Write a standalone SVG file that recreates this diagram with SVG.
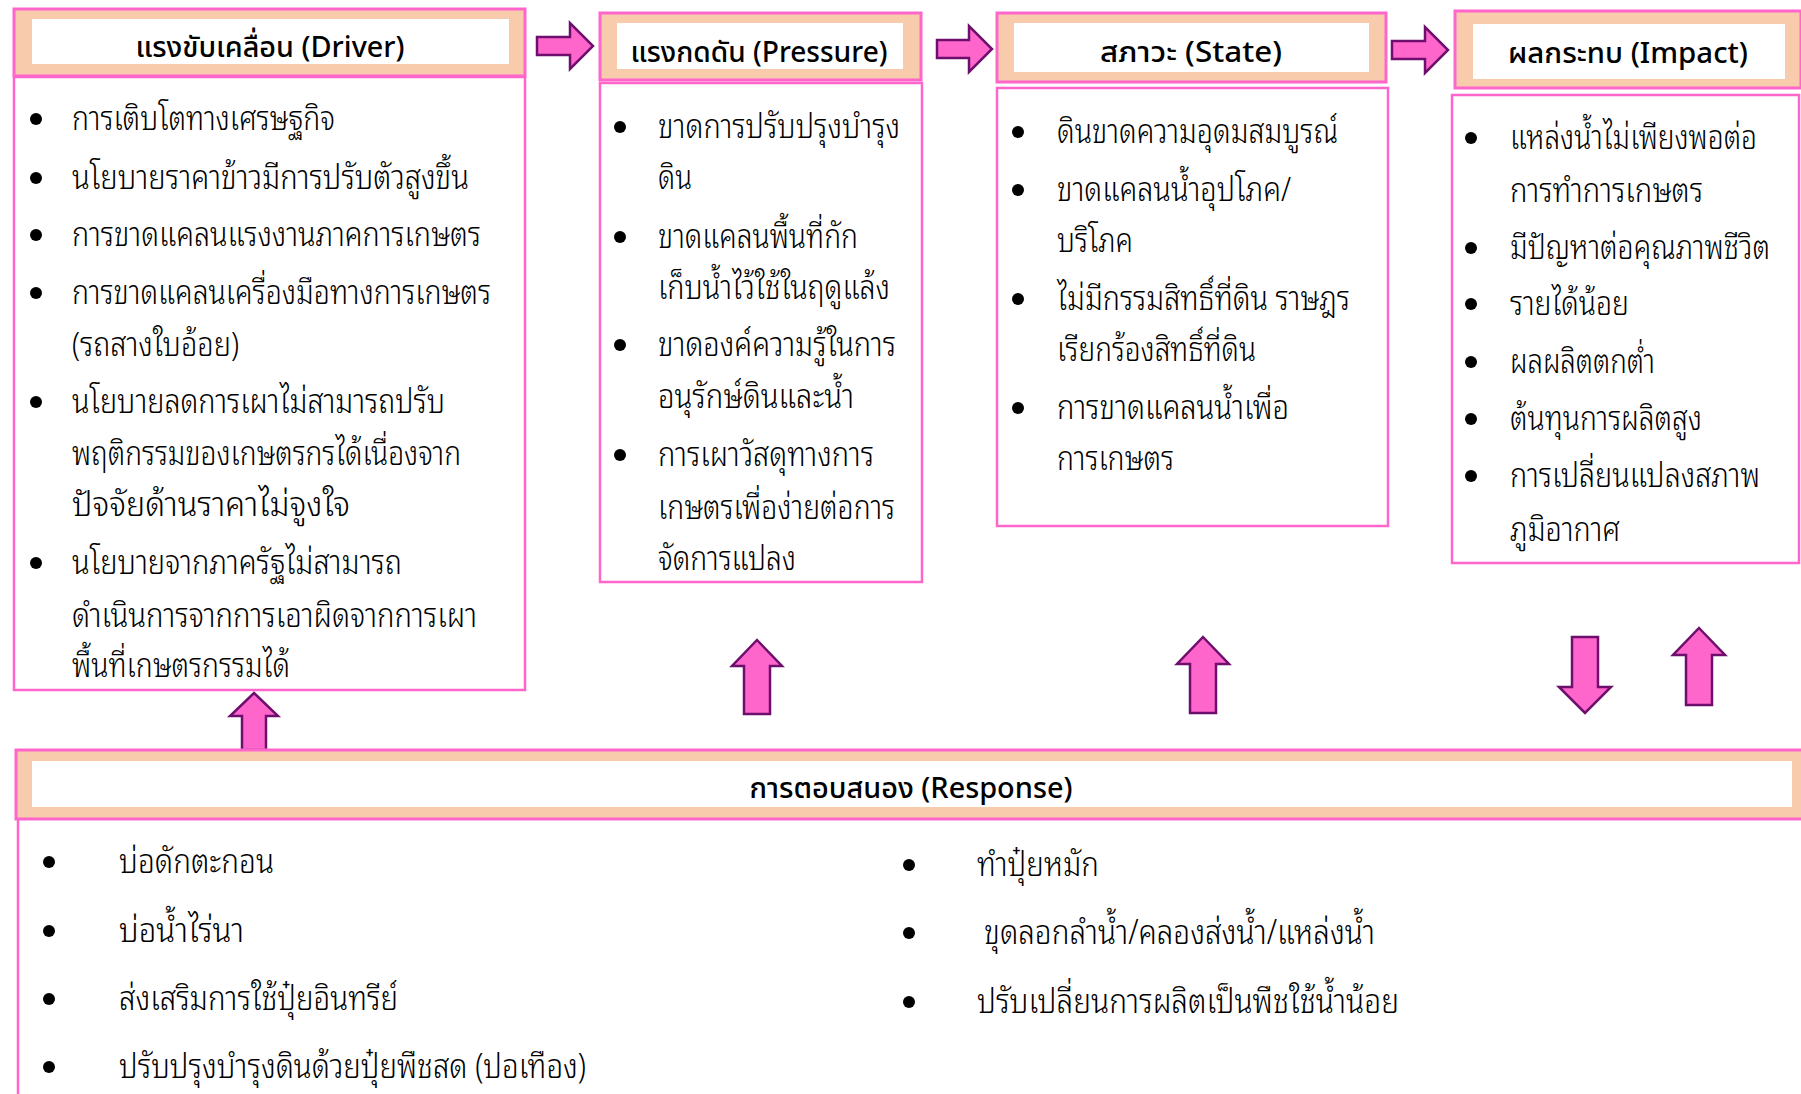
<svg xmlns="http://www.w3.org/2000/svg" width="1801" height="1094" viewBox="0 0 1801 1094">
<defs>
<style>
.hdr{fill:#F8CBAD;stroke:#FF66CC;stroke-width:3}
.inner{fill:#FFFFFF;stroke:none}
.body{fill:#FFFFFF;stroke:#FF66CC;stroke-width:2.5}
.arrow{fill:#FF66CC;stroke:#6E0F6E;stroke-width:2.5;stroke-linejoin:miter}
.title{font-family:"Noto Sans Thai","Noto Sans Thai UI","Leelawadee UI","Noto Sans",sans-serif;font-size:29px;font-weight:500;fill:#000;text-anchor:middle}
.t{font-family:"Noto Sans Thai Looped","Noto Serif Thai","Noto Sans Thai","TH Sarabun New","Noto Sans",sans-serif;font-size:33px;font-weight:300;fill:#000}
.r{font-size:34px}
.dot{fill:#000}
</style>
</defs>
<rect width="1801" height="1094" fill="#FFFFFF"/>

<g id="connectors">
<polygon class="arrow" points="537,37 570,37 570,23 593,46 570,69 570,55 537,55"/>
<polygon class="arrow" points="937,40 969,40 969,26 992,49 969,72 969,58 937,58"/>
<polygon class="arrow" points="1392,41 1425,41 1425,27 1448,50 1425,73 1425,59 1392,59"/>
<polygon class="arrow" points="254,693 278,716 266,716 266,750 242,750 242,716 230,716"/>
<polygon class="arrow" points="757,640 782,666 770,666 770,714 744,714 744,666 732,666"/>
<polygon class="arrow" points="1203,637 1229,664 1216,664 1216,713 1190,713 1190,664 1177,664"/>
<polygon class="arrow" points="1572,637 1598,637 1598,687 1611,687 1585,713 1559,687 1572,687"/>
<polygon class="arrow" points="1699,628 1725,655 1712,655 1712,705 1686,705 1686,655 1673,655"/>
</g>

<g id="driver">
<rect class="hdr" x="14" y="9" width="511" height="67"/>
<rect class="inner" x="32" y="19" width="477" height="45"/>
<text class="title" x="270" y="57" textLength="269" lengthAdjust="spacingAndGlyphs">แรงขับเคลื่อน (Driver)</text>
<rect class="body" x="14" y="77" width="511" height="613"/>
<circle class="dot" cx="36" cy="119" r="6"/>
<circle class="dot" cx="36" cy="178" r="6"/>
<circle class="dot" cx="36" cy="235" r="6"/>
<circle class="dot" cx="36" cy="293" r="6"/>
<circle class="dot" cx="36" cy="402" r="6"/>
<circle class="dot" cx="36" cy="563" r="6"/>
<text class="t" x="72" y="130" textLength="263" lengthAdjust="spacingAndGlyphs">การเติบโตทางเศรษฐกิจ</text>
<text class="t" x="72" y="189" textLength="397" lengthAdjust="spacingAndGlyphs">นโยบายราคาข้าวมีการปรับตัวสูงขึ้น</text>
<text class="t" x="72" y="246" textLength="409" lengthAdjust="spacingAndGlyphs">การขาดแคลนแรงงานภาคการเกษตร</text>
<text class="t" x="72" y="304" textLength="419" lengthAdjust="spacingAndGlyphs">การขาดแคลนเครื่องมือทางการเกษตร</text>
<text class="t" x="72" y="356" textLength="167" lengthAdjust="spacingAndGlyphs">(รถสางใบอ้อย)</text>
<text class="t" x="72" y="413" textLength="373" lengthAdjust="spacingAndGlyphs">นโยบายลดการเผาไม่สามารถปรับ</text>
<text class="t" x="72" y="465" textLength="389" lengthAdjust="spacingAndGlyphs">พฤติกรรมของเกษตรกรได้เนื่องจาก</text>
<text class="t" x="72" y="516" textLength="278" lengthAdjust="spacingAndGlyphs">ปัจจัยด้านราคาไม่จูงใจ</text>
<text class="t" x="72" y="574" textLength="330" lengthAdjust="spacingAndGlyphs">นโยบายจากภาครัฐไม่สามารถ</text>
<text class="t" x="72" y="627" textLength="405" lengthAdjust="spacingAndGlyphs">ดำเนินการจากการเอาผิดจากการเผา</text>
<text class="t" x="72" y="677" textLength="218" lengthAdjust="spacingAndGlyphs">พื้นที่เกษตรกรรมได้</text>
</g>

<g id="pressure">
<rect class="hdr" x="600" y="13" width="321" height="67"/>
<rect class="inner" x="617" y="23" width="286" height="46"/>
<text class="title" x="759" y="62" textLength="257" lengthAdjust="spacingAndGlyphs">แรงกดดัน (Pressure)</text>
<rect class="body" x="600" y="83" width="322" height="499"/>
<circle class="dot" cx="620" cy="127" r="6"/>
<circle class="dot" cx="620" cy="237" r="6"/>
<circle class="dot" cx="620" cy="345" r="6"/>
<circle class="dot" cx="620" cy="455" r="6"/>
<text class="t" x="658" y="138" textLength="242" lengthAdjust="spacingAndGlyphs">ขาดการปรับปรุงบำรุง</text>
<text class="t" x="658" y="189" textLength="34" lengthAdjust="spacingAndGlyphs">ดิน</text>
<text class="t" x="658" y="248" textLength="200" lengthAdjust="spacingAndGlyphs">ขาดแคลนพื้นที่กัก</text>
<text class="t" x="658" y="299" textLength="232" lengthAdjust="spacingAndGlyphs">เก็บน้ำไว้ใช้ในฤดูแล้ง</text>
<text class="t" x="658" y="356" textLength="238" lengthAdjust="spacingAndGlyphs">ขาดองค์ความรู้ในการ</text>
<text class="t" x="658" y="408" textLength="196" lengthAdjust="spacingAndGlyphs">อนุรักษ์ดินและน้ำ</text>
<text class="t" x="658" y="466" textLength="216" lengthAdjust="spacingAndGlyphs">การเผาวัสดุทางการ</text>
<text class="t" x="658" y="519" textLength="237" lengthAdjust="spacingAndGlyphs">เกษตรเพื่อง่ายต่อการ</text>
<text class="t" x="658" y="570" textLength="138" lengthAdjust="spacingAndGlyphs">จัดการแปลง</text>
</g>

<g id="state">
<rect class="hdr" x="997" y="13" width="389" height="69"/>
<rect class="inner" x="1014" y="23" width="355" height="49"/>
<text class="title" x="1191" y="62" textLength="182" lengthAdjust="spacingAndGlyphs">สภาวะ (State)</text>
<rect class="body" x="997" y="88" width="391" height="438"/>
<circle class="dot" cx="1018" cy="132" r="6"/>
<circle class="dot" cx="1018" cy="190" r="6"/>
<circle class="dot" cx="1018" cy="299" r="6"/>
<circle class="dot" cx="1018" cy="408" r="6"/>
<text class="t" x="1057" y="143" textLength="281" lengthAdjust="spacingAndGlyphs">ดินขาดความอุดมสมบูรณ์</text>
<text class="t" x="1057" y="201" textLength="234" lengthAdjust="spacingAndGlyphs">ขาดแคลนน้ำอุปโภค/</text>
<text class="t" x="1057" y="252" textLength="76" lengthAdjust="spacingAndGlyphs">บริโภค</text>
<text class="t" x="1057" y="310" textLength="293" lengthAdjust="spacingAndGlyphs">ไม่มีกรรมสิทธิ์ที่ดิน ราษฎร</text>
<text class="t" x="1057" y="361" textLength="199" lengthAdjust="spacingAndGlyphs">เรียกร้องสิทธิ์ที่ดิน</text>
<text class="t" x="1057" y="419" textLength="232" lengthAdjust="spacingAndGlyphs">การขาดแคลนน้ำเพื่อ</text>
<text class="t" x="1057" y="470" textLength="117" lengthAdjust="spacingAndGlyphs">การเกษตร</text>
</g>

<g id="impact">
<rect class="hdr" x="1455" y="11" width="346" height="77"/>
<rect class="inner" x="1473" y="24" width="312" height="55"/>
<text class="title" x="1628" y="63" textLength="240" lengthAdjust="spacingAndGlyphs">ผลกระทบ (Impact)</text>
<rect class="body" x="1452" y="95" width="347" height="468"/>
<circle class="dot" cx="1471" cy="138" r="6"/>
<circle class="dot" cx="1471" cy="248" r="6"/>
<circle class="dot" cx="1471" cy="304" r="6"/>
<circle class="dot" cx="1471" cy="362" r="6"/>
<circle class="dot" cx="1471" cy="419" r="6"/>
<circle class="dot" cx="1471" cy="476" r="6"/>
<text class="t" x="1510" y="149" textLength="247" lengthAdjust="spacingAndGlyphs">แหล่งน้ำไม่เพียงพอต่อ</text>
<text class="t" x="1510" y="202" textLength="193" lengthAdjust="spacingAndGlyphs">การทำการเกษตร</text>
<text class="t" x="1510" y="259" textLength="260" lengthAdjust="spacingAndGlyphs">มีปัญหาต่อคุณภาพชีวิต</text>
<text class="t" x="1510" y="315" textLength="119" lengthAdjust="spacingAndGlyphs">รายได้น้อย</text>
<text class="t" x="1510" y="373" textLength="145" lengthAdjust="spacingAndGlyphs">ผลผลิตตกต่ำ</text>
<text class="t" x="1510" y="430" textLength="192" lengthAdjust="spacingAndGlyphs">ต้นทุนการผลิตสูง</text>
<text class="t" x="1510" y="487" textLength="250" lengthAdjust="spacingAndGlyphs">การเปลี่ยนแปลงสภาพ</text>
<text class="t" x="1510" y="541" textLength="110" lengthAdjust="spacingAndGlyphs">ภูมิอากาศ</text>
</g>

<g id="response">
<line x1="18" y1="819" x2="18" y2="1094" stroke="#FF66CC" stroke-width="2.5"/>
<rect class="hdr" x="16" y="750" width="1790" height="69"/>
<rect class="inner" x="32" y="761" width="1760" height="46"/>
<text class="title" x="911" y="798" textLength="323" lengthAdjust="spacingAndGlyphs">การตอบสนอง (Response)</text>
<circle class="dot" cx="49" cy="862" r="6"/>
<circle class="dot" cx="49" cy="931" r="6"/>
<circle class="dot" cx="49" cy="999" r="6"/>
<circle class="dot" cx="49" cy="1067" r="6"/>
<circle class="dot" cx="909" cy="865" r="6"/>
<circle class="dot" cx="909" cy="933" r="6"/>
<circle class="dot" cx="909" cy="1002" r="6"/>
<text class="t r" x="119" y="873" textLength="155" lengthAdjust="spacingAndGlyphs">บ่อดักตะกอน</text>
<text class="t r" x="119" y="942" textLength="125" lengthAdjust="spacingAndGlyphs">บ่อน้ำไร่นา</text>
<text class="t r" x="119" y="1010" textLength="279" lengthAdjust="spacingAndGlyphs">ส่งเสริมการใช้ปุ๋ยอินทรีย์</text>
<text class="t r" x="119" y="1078" textLength="467" lengthAdjust="spacingAndGlyphs">ปรับปรุงบำรุงดินด้วยปุ๋ยพืชสด (ปอเทือง)</text>
<text class="t r" x="977" y="876" textLength="122" lengthAdjust="spacingAndGlyphs">ทำปุ๋ยหมัก</text>
<text class="t r" x="984" y="944" textLength="391" lengthAdjust="spacingAndGlyphs">ขุดลอกลำน้ำ/คลองส่งน้ำ/แหล่งน้ำ</text>
<text class="t r" x="977" y="1013" textLength="422" lengthAdjust="spacingAndGlyphs">ปรับเปลี่ยนการผลิตเป็นพืชใช้น้ำน้อย</text>
</g>
</svg>
